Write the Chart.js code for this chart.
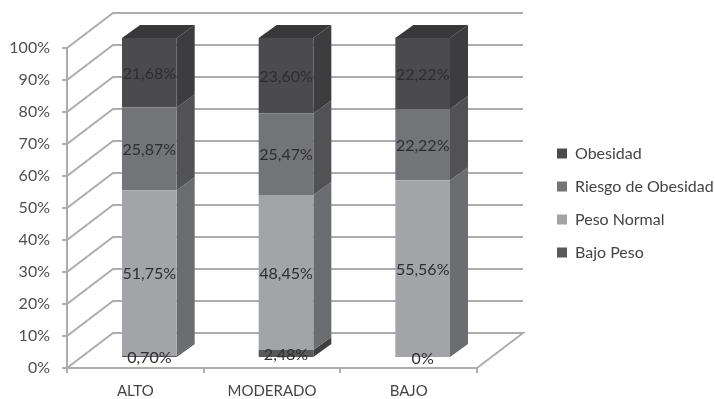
<!DOCTYPE html>
<html lang="es">
<head>
<meta charset="utf-8">
<title>Estado nutricional por nivel</title>
<style>
  html, body { margin: 0; padding: 0; background: #fff; }
  canvas { display: block; }
</style>
</head>
<body>
<canvas id="chart" width="715" height="399"></canvas>
<script src="https://cdn.jsdelivr.net/npm/chart.js@4/dist/chart.umd.min.js"></script>
<script>
// ── Data ─────────────────────────────────────
const categories = ['ALTO', 'MODERADO', 'BAJO'];
const bajoPeso   = [0.70, 2.48, 0];
const pesoNormal = [51.75, 48.45, 55.56];
const riesgo     = [25.87, 25.47, 22.22];
const obesidad   = [21.68, 23.60, 22.22];
const yTicks     = [0, 10, 20, 30, 40, 50, 60, 70, 80, 90, 100];

// ── Look ─────────────────────────────────────
const FONT = 'Lato, "Open Sans", sans-serif';
const GRID = '#adadad';
const WALL = { x: 46, y: -35 };      // floor depth, front axis to back wall
const BAR_SHIFT = { x: 14, y: -10 }; // bars stand in the middle of the floor
const BAR_DEPTH = { x: 18, y: -13 };
const LEGEND_SHIFT = { x: 63, y: -20.5 };

const fmt = v => v.toFixed(2).replace('.', ',') + '%';
const fmtLabel = v => (v === 0 ? '0%' : fmt(v));

function face(ctx, color, pts) {
  ctx.fillStyle = color;
  ctx.beginPath();
  pts.forEach((p, i) => (i ? ctx.lineTo(p[0], p[1]) : ctx.moveTo(p[0], p[1])));
  ctx.closePath();
  ctx.fill();
}

// Back wall, side wall and floor lines, from the y scale
const wallPlugin = {
  id: 'walls',
  beforeDatasetsDraw(chart) {
    const { ctx, scales: { x, y } } = chart;
    ctx.save();
    ctx.strokeStyle = GRID;
    ctx.lineWidth = 2;
    yTicks.forEach(t => {
      const py = y.getPixelForValue(t);
      ctx.beginPath();
      ctx.moveTo(x.left, py);
      ctx.lineTo(x.left + WALL.x, py + WALL.y);
      ctx.lineTo(x.right + WALL.x, py + WALL.y);
      if (t === 0) ctx.lineTo(x.right, py);
      ctx.stroke();
    });
    ctx.restore();
  }
};

// Side and top faces of the stacked columns; the front faces are the native bars
const bar3dPlugin = {
  id: 'bar3d',
  beforeDatasetsDraw(chart) {
    const ctx = chart.ctx;
    const last = chart.data.datasets.length - 1;
    chart.data.datasets.forEach((ds, d) => {
      chart.getDatasetMeta(d).data.forEach((el, i) => {
        if (!ds.data[i]) return;
        const l = el.x - el.width / 2 + BAR_SHIFT.x;
        const r = el.x + el.width / 2 + BAR_SHIFT.x;
        const top = el.y + BAR_SHIFT.y;
        const bot = el.base + BAR_SHIFT.y;
        face(ctx, ds.sideColor, [
          [r, top], [r + BAR_DEPTH.x, top + BAR_DEPTH.y],
          [r + BAR_DEPTH.x, bot + BAR_DEPTH.y], [r, bot]
        ]);
        if (d === last) {
          face(ctx, ds.topColor, [
            [l, top], [l + BAR_DEPTH.x, top + BAR_DEPTH.y],
            [r + BAR_DEPTH.x, top + BAR_DEPTH.y], [r, top]
          ]);
        }
      });
    });
  },
  beforeDatasetDraw(chart) {
    chart.ctx.save();
    chart.ctx.translate(BAR_SHIFT.x, BAR_SHIFT.y);
  },
  afterDatasetDraw(chart) {
    chart.ctx.restore();
  },
  // value labels, centred on each segment
  afterDatasetsDraw(chart) {
    const ctx = chart.ctx;
    ctx.save();
    ctx.font = '16px ' + FONT;
    ctx.fillStyle = '#2e2e30';
    ctx.textAlign = 'center';
    ctx.textBaseline = 'middle';
    chart.data.datasets.forEach((ds, d) => {
      chart.getDatasetMeta(d).data.forEach((el, i) => {
        const v = ds.data[i];
        // the zero in BAJO belongs to the bottom series only
        if (v === 0 && d !== 0) return;
        ctx.fillText(fmtLabel(v), el.x + BAR_SHIFT.x, (el.y + el.base) / 2 + BAR_SHIFT.y + 1);
      });
    });
    ctx.restore();
  }
};

// Legend box is laid out by Chart.js, then nudged out to the right margin.
// Its right edge goes to the canvas edge since the legend clips to its box.
const legendShift = {
  id: 'legendShift',
  afterLayout(chart) {
    const lg = chart.legend;
    lg.left += LEGEND_SHIFT.x;
    lg.right = chart.width;
    lg.top += LEGEND_SHIFT.y;
    lg.bottom += LEGEND_SHIFT.y;
  }
};

new Chart(document.getElementById('chart'), {
  type: 'bar',
  plugins: [wallPlugin, bar3dPlugin, legendShift],
  data: {
    labels: categories,
    datasets: [
      { label: 'Bajo Peso', data: bajoPeso, backgroundColor: '#59595b', sideColor: '#3f3f41', topColor: '#3f3f41' },
      { label: 'Peso Normal', data: pesoNormal, backgroundColor: '#a3a4a8', sideColor: '#6c6d71', topColor: '#6c6d71' },
      { label: 'Riesgo de Obesidad', data: riesgo, backgroundColor: '#737477', sideColor: '#525254', topColor: '#525254' },
      { label: 'Obesidad', data: obesidad, backgroundColor: '#4b4b4d', sideColor: '#3d3d3f', topColor: '#38383a' }
    ]
  },
  options: {
    responsive: false,
    animation: false,
    layout: { padding: { top: 48, right: 79, bottom: 0, left: 0 } },
    datasets: { bar: { categoryPercentage: 1, barPercentage: 0.4 } },
    scales: {
      x: {
        stacked: true,
        afterFit: s => { s.height = 31; },
        grid: { drawOnChartArea: false, color: GRID, lineWidth: 2, tickLength: 5 },
        border: { color: GRID, width: 2 },
        ticks: { color: '#444446', padding: 9, font: { family: FONT, size: 15 } }
      },
      y: {
        stacked: true,
        min: 0,
        max: 100,
        afterFit: s => { s.width = 67; },
        afterBuildTicks: s => { s.ticks = yTicks.map(value => ({ value })); },
        grid: { drawOnChartArea: false, color: GRID, lineWidth: 2, tickLength: 5 },
        border: { color: GRID, width: 2 },
        ticks: { color: '#4f4f51', padding: 12, font: { family: FONT, size: 16 }, callback: v => v + '%' }
      }
    },
    plugins: {
      tooltip: { enabled: false },
      legend: {
        position: 'right',
        reverse: true,
        labels: {
          boxWidth: 10,
          boxHeight: 10,
          padding: 17,
          color: '#444446',
          font: { family: FONT, size: 16 }
        }
      }
    }
  }
});
</script>
</body>
</html>
